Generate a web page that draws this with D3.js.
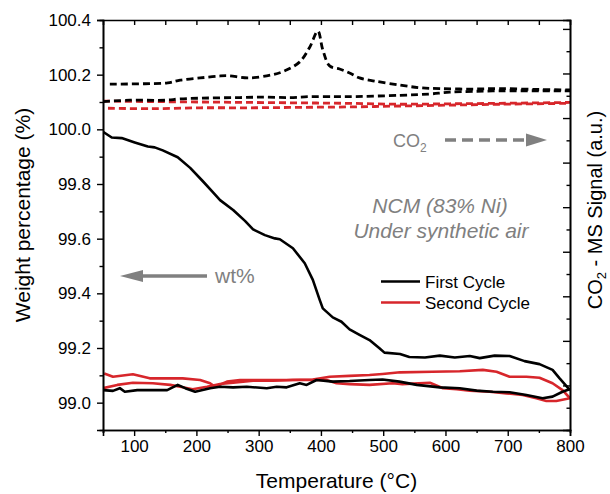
<!DOCTYPE html>
<html><head><meta charset="utf-8">
<script src="https://cdn.jsdelivr.net/npm/d3@7"></script>
<style>body{margin:0;background:#fff}svg{display:block}text{font-family:"Liberation Sans",Arial,sans-serif}</style>
</head><body>
<svg id="c" width="610" height="494"></svg>
<script>
// ---- data ----
const xTicks = [100,200,300,400,500,600,700,800];
const yTicks = [99.0,99.2,99.4,99.6,99.8,100.0,100.2,100.4];
const yTickLabels = ["99.0","99.2","99.4","99.6","99.8","100.0","100.2","100.4"];
const seriesNames = ["First Cycle","Second Cycle"];

// First cycle, weight % (heating)
const firstHeatT = [50,64,80,101,122,133,146,170,190,210,226,238,259,278,291,310,326,334,355,374,387,398,403,419,433,446,462,478,494,502,527,542,567,591,615,639,655,679,703,727,751,772,783,800];
const firstHeatW = [99.991,99.970,99.968,99.952,99.937,99.934,99.923,99.898,99.859,99.811,99.771,99.741,99.705,99.665,99.634,99.613,99.601,99.598,99.565,99.510,99.449,99.376,99.345,99.312,99.296,99.268,99.248,99.229,99.199,99.183,99.178,99.167,99.165,99.172,99.165,99.171,99.163,99.172,99.171,99.152,99.141,99.120,99.090,99.046];
// First cycle, weight % (cooling)
const firstCoolT = [800,788,772,756,730,703,676,650,623,591,554,526,499,478,446,419,393,377,366,345,329,313,281,259,238,222,198,182,170,153,105,85,77,66,50];
const firstCoolW = [99.050,99.040,99.022,99.016,99.028,99.038,99.040,99.044,99.053,99.056,99.065,99.077,99.085,99.083,99.079,99.077,99.083,99.065,99.071,99.056,99.058,99.053,99.058,99.056,99.058,99.053,99.040,99.053,99.065,99.046,99.046,99.040,99.053,99.043,99.046];
// Second cycle, weight %
const secondAT = [52,66,98,125,178,206,222,230,249,270,313,345,387,414,446,478,499,527,579,623,660,682,703,730,751,772,788,800];
const secondAW = [99.107,99.095,99.104,99.089,99.089,99.083,99.071,99.058,99.077,99.083,99.083,99.083,99.085,99.095,99.098,99.101,99.105,99.111,99.113,99.115,99.120,99.113,99.095,99.095,99.091,99.071,99.046,99.016];
const secondBT = [50,73,98,130,158,174,194,217,238,259,291,323,355,387,409,425,446,478,515,531,575,596,618,639,671,698,724,746,762,778,800];
const secondBW = [99.053,99.065,99.073,99.071,99.065,99.058,99.049,99.058,99.068,99.073,99.080,99.080,99.083,99.083,99.083,99.071,99.068,99.065,99.071,99.068,99.073,99.053,99.049,99.044,99.040,99.034,99.028,99.016,99.006,99.006,99.016];

// CO2 MS signal (a.u.)
const co2FirstAT = [61,117,154,174,206,235,251,283,321,342,366,382,395,403,414,430,446,462,486,527,559,591,639,687,751,800];
const co2FirstAV = [7.76,7.77,7.79,7.85,7.90,7.94,7.95,7.90,7.97,8.06,8.26,8.59,8.95,8.53,8.17,8.10,8.01,7.90,7.83,7.74,7.68,7.66,7.65,7.66,7.64,7.63];
const co2FirstBT = [50,93,150,174,222,270,310,350,382,422,446,527,575,607,687,800];
const co2FirstBV = [7.37,7.40,7.40,7.43,7.45,7.46,7.47,7.46,7.48,7.48,7.48,7.51,7.54,7.58,7.61,7.61];
const co2SecondAT = [50,125,206,286,366,446,527,607,687,800];
const co2SecondAV = [7.38,7.37,7.36,7.35,7.34,7.33,7.31,7.32,7.33,7.35];
const co2SecondBT = [58,125,206,286,366,446,527,607,687,800];
const co2SecondBV = [7.22,7.21,7.23,7.23,7.24,7.25,7.27,7.29,7.31,7.33];

// ---- drawing ----
const W=610,H=494, L=103,R=570,T=20,B=430;
const BLACK="#000", RED="#d7262b", GRAY="#808080";
const svg=d3.select("#c");
const x=d3.scaleLinear().domain([50,800]).range([L,R]);
const y=d3.scaleLinear().domain([98.9,100.4]).range([B,T]);
const y2=d3.scaleLinear().domain([0,9.2]).range([B,T]);

svg.append("defs").append("clipPath").attr("id","clip").append("rect")
  .attr("x",L).attr("y",T).attr("width",R-L).attr("height",B-T);
const g=svg.append("g").attr("clip-path","url(#clip)");

const zip=(a,b)=>a.map((d,i)=>[d,b[i]]);
const lineW=d3.line().x(d=>x(d[0])).y(d=>y(d[1]));
const lineC=d3.line().x(d=>x(d[0])).y(d=>y2(d[1])).curve(d3.curveCatmullRom);

// dashed CO2
[[co2SecondAT,co2SecondAV,RED],[co2SecondBT,co2SecondBV,RED],[co2FirstBT,co2FirstBV,BLACK],[co2FirstAT,co2FirstAV,BLACK]].forEach(s=>{
  g.append("path").attr("d",lineC(zip(s[0],s[1]))).attr("fill","none")
   .attr("stroke",s[2]).attr("stroke-width",2.8).attr("stroke-dasharray","7,4");
});
// solid weight
[[secondAT,secondAW,RED],[secondBT,secondBW,RED],[firstCoolT,firstCoolW,BLACK],[firstHeatT,firstHeatW,BLACK]].forEach(s=>{
  g.append("path").attr("d",lineW(zip(s[0],s[1]))).attr("fill","none")
   .attr("stroke",s[2]).attr("stroke-width",2.6).attr("stroke-linejoin","round");
});

// axes
const axG=svg.append("g");
const fs="17px";
// bottom
const bottom=d3.axisBottom(x).tickValues(xTicks).tickSize(6).tickPadding(4).tickFormat(d3.format("d"));
const gb=axG.append("g").attr("transform",`translate(0,${B})`).call(bottom);
gb.selectAll("text").style("font-size",fs).attr("fill","#000");
axG.append("g").attr("transform",`translate(0,${B})`)
  .call(d3.axisBottom(x).tickValues(d3.range(50,801,100)).tickSize(3).tickFormat(""));
// top (inward)
axG.append("g").attr("transform",`translate(0,${T})`)
  .call(d3.axisTop(x).tickValues(d3.range(100,751,50)).tickSize(-5).tickFormat(""));
// left
const gl=axG.append("g").attr("transform",`translate(${L},0)`)
  .call(d3.axisLeft(y).tickValues(yTicks).tickSize(6).tickPadding(6).tickFormat((d,i)=>yTickLabels[i]));
gl.selectAll("text").style("font-size",fs).attr("fill","#000");
axG.append("g").attr("transform",`translate(${L},0)`)
  .call(d3.axisLeft(y).tickValues([99.1,99.3,99.5,99.7,99.9,100.1,100.3]).tickSize(3.5).tickFormat(""));
// right (inward)
axG.append("g").attr("transform",`translate(${R},0)`)
  .call(d3.axisRight(y2).tickValues(d3.range(1,10,1).filter(v=>v<9.2)).tickSize(-7).tickFormat(""));
axG.append("g").attr("transform",`translate(${R},0)`)
  .call(d3.axisRight(y2).tickValues(d3.range(0.5,9.2,1)).tickSize(-3.5).tickFormat(""));
axG.selectAll(".domain").attr("stroke","#000").attr("stroke-width",1.6);
axG.selectAll(".tick line").attr("stroke","#000").attr("stroke-width",1.4);

// titles
svg.append("text").attr("x",(L+R)/2).attr("y",488).attr("text-anchor","middle")
  .style("font-size","21px").text("Temperature (°C)");
svg.append("text").attr("transform","translate(30,215) rotate(-90)").attr("text-anchor","middle")
  .style("font-size","21px").text("Weight percentage (%)");
const rt=svg.append("text").attr("transform","translate(602,210) rotate(-90)").attr("text-anchor","middle")
  .style("font-size","20px");
rt.append("tspan").text("CO");
rt.append("tspan").attr("dy",4).style("font-size","13px").text("2");
rt.append("tspan").attr("dy",-4).text(" - MS Signal (a.u.)");

// annotations
const co=svg.append("text").attr("x",393).attr("y",147).attr("fill",GRAY).style("font-size","18px");
co.append("tspan").text("CO");
co.append("tspan").attr("dy",5).style("font-size","12px").text("2");
svg.append("line").attr("x1",445).attr("x2",526).attr("y1",140).attr("y2",140)
  .attr("stroke",GRAY).attr("stroke-width",3.5).attr("stroke-dasharray","11,6");
svg.append("path").attr("d","M526,133.5L547,140L526,146.5Z").attr("fill",GRAY);

svg.append("line").attr("x1",140).attr("x2",207).attr("y1",276).attr("y2",276)
  .attr("stroke",GRAY).attr("stroke-width",3.5);
svg.append("path").attr("d","M143,270L120,276L143,282Z").attr("fill",GRAY);
svg.append("text").attr("x",215).attr("y",283).attr("fill",GRAY).style("font-size","21px").text("wt%");

svg.append("text").attr("x",440).attr("y",213).attr("text-anchor","middle").attr("fill",GRAY)
  .style("font-size","21px").style("font-style","italic").text("NCM (83% Ni)");
svg.append("text").attr("x",441).attr("y",238).attr("text-anchor","middle").attr("fill",GRAY)
  .style("font-size","21px").style("font-style","italic").text("Under synthetic air");

// legend
seriesNames.forEach((n,i)=>{
  const yy=281.5+i*21;
  svg.append("line").attr("x1",381).attr("x2",420).attr("y1",yy).attr("y2",yy)
    .attr("stroke",i?RED:BLACK).attr("stroke-width",2.6);
  svg.append("text").attr("x",425).attr("y",yy+6).style("font-size","17px").text(n);
});
</script>
</body></html>
